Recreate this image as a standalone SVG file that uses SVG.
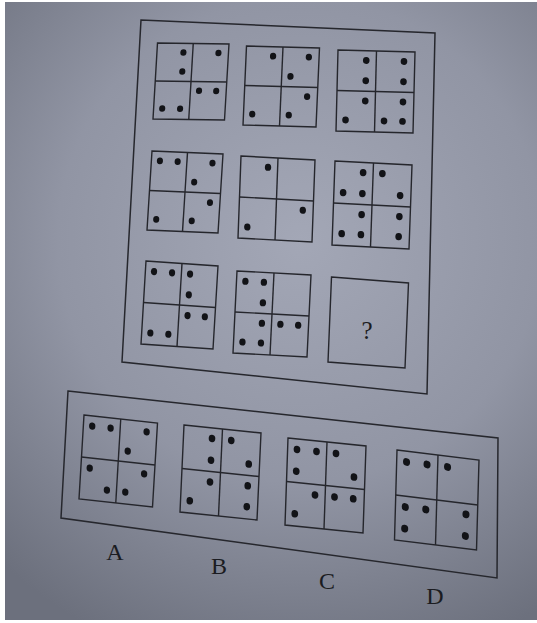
<svg xmlns="http://www.w3.org/2000/svg" width="537" height="623" viewBox="0 0 537 623">
<defs>
<radialGradient id="paper" cx="300" cy="240" r="440" gradientUnits="userSpaceOnUse">
<stop offset="0" stop-color="#a3a7b6"/>
<stop offset="0.55" stop-color="#9195a4"/>
<stop offset="1" stop-color="#6c707d"/>
</radialGradient>
<style>
.frame{fill:none;stroke:#26272d;stroke-width:1.5}
.cell rect,.cell line{fill:none;stroke:#25262c;stroke-width:1.4;vector-effect:non-scaling-stroke}
.cell circle{fill:#121317}
.lbl{font-family:"Liberation Serif",serif;fill:#1b1c21;text-anchor:middle}
</style>
</defs>
<rect width="537" height="623" fill="#ffffff"/>
<rect x="5" y="2" width="532" height="618" fill="url(#paper)"/>

<g id="main-frame"><polygon class="frame" points="141,20 435,33 427,394 122,362"/></g>
<g id="options-frame"><polygon class="frame" points="68,391 498,438 497,578 61,518"/></g>

<g id="cell1" class="cell" transform="matrix(0.715,0.01,-0.045,0.76,157.5,43)">
<rect width="100" height="100"/><line x1="50" y1="0" x2="50" y2="100"/><line x1="0" y1="50" x2="100" y2="50"/>
<circle cx="37" cy="12" r="4.3"/><circle cx="37" cy="37" r="4.3"/><circle cx="86" cy="12" r="4.3"/><circle cx="62" cy="62" r="4.3"/><circle cx="86" cy="62" r="4.3"/><circle cx="12" cy="86" r="4.3"/><circle cx="37" cy="86" r="4.3"/>
</g>
<g id="cell2" class="cell" transform="matrix(0.73,0.02,-0.035,0.79,246.5,46)">
<rect width="100" height="100"/><line x1="50" y1="0" x2="50" y2="100"/><line x1="0" y1="50" x2="100" y2="50"/>
<circle cx="37" cy="12" r="4.3"/><circle cx="86" cy="12" r="4.3"/><circle cx="62" cy="37" r="4.3"/><circle cx="86" cy="62" r="4.3"/><circle cx="12" cy="86" r="4.3"/><circle cx="62" cy="86" r="4.3"/>
</g>
<g id="cell3" class="cell" transform="matrix(0.77,0.02,-0.02,0.81,338,50)">
<rect width="100" height="100"/><line x1="50" y1="0" x2="50" y2="100"/><line x1="0" y1="50" x2="100" y2="50"/>
<circle cx="37" cy="12" r="4.3"/><circle cx="86" cy="12" r="4.3"/><circle cx="37" cy="37" r="4.3"/><circle cx="86" cy="37" r="4.3"/><circle cx="37" cy="62" r="4.3"/><circle cx="86" cy="62" r="4.3"/><circle cx="12" cy="86" r="4.3"/><circle cx="62" cy="86" r="4.3"/><circle cx="86" cy="86" r="4.3"/>
</g>
<g id="cell4" class="cell" transform="matrix(0.71,0.03,-0.05,0.79,152,151)">
<rect width="100" height="100"/><line x1="50" y1="0" x2="50" y2="100"/><line x1="0" y1="50" x2="100" y2="50"/>
<circle cx="12" cy="12" r="4.3"/><circle cx="37" cy="12" r="4.3"/><circle cx="86" cy="12" r="4.3"/><circle cx="62" cy="37" r="4.3"/><circle cx="86" cy="62" r="4.3"/><circle cx="12" cy="86" r="4.3"/><circle cx="62" cy="86" r="4.3"/>
</g>
<g id="cell5" class="cell" transform="matrix(0.74,0.04,-0.03,0.82,241,156)">
<rect width="100" height="100"/><line x1="50" y1="0" x2="50" y2="100"/><line x1="0" y1="50" x2="100" y2="50"/>
<circle cx="37" cy="12" r="4.3"/><circle cx="86" cy="62" r="4.3"/><circle cx="12" cy="86" r="4.3"/>
</g>
<g id="cell6" class="cell" transform="matrix(0.77,0.04,-0.03,0.84,335,161)">
<rect width="100" height="100"/><line x1="50" y1="0" x2="50" y2="100"/><line x1="0" y1="50" x2="100" y2="50"/>
<circle cx="37" cy="12" r="4.3"/><circle cx="62" cy="12" r="4.3"/><circle cx="12" cy="37" r="4.3"/><circle cx="37" cy="37" r="4.3"/><circle cx="86" cy="37" r="4.3"/><circle cx="37" cy="62" r="4.3"/><circle cx="86" cy="62" r="4.3"/><circle cx="12" cy="86" r="4.3"/><circle cx="37" cy="86" r="4.3"/><circle cx="86" cy="86" r="4.3"/>
</g>
<g id="cell7" class="cell" transform="matrix(0.72,0.05,-0.05,0.83,146,261)">
<rect width="100" height="100"/><line x1="50" y1="0" x2="50" y2="100"/><line x1="0" y1="50" x2="100" y2="50"/>
<circle cx="12" cy="12" r="4.3"/><circle cx="37" cy="12" r="4.3"/><circle cx="62" cy="12" r="4.3"/><circle cx="62" cy="37" r="4.3"/><circle cx="62" cy="62" r="4.3"/><circle cx="86" cy="62" r="4.3"/><circle cx="12" cy="86" r="4.3"/><circle cx="37" cy="86" r="4.3"/>
</g>
<g id="cell8" class="cell" transform="matrix(0.74,0.04,-0.04,0.82,237,271)">
<rect width="100" height="100"/><line x1="50" y1="0" x2="50" y2="100"/><line x1="0" y1="50" x2="100" y2="50"/>
<circle cx="12" cy="12" r="4.3"/><circle cx="37" cy="12" r="4.3"/><circle cx="37" cy="37" r="4.3"/><circle cx="37" cy="62" r="4.3"/><circle cx="62" cy="62" r="4.3"/><circle cx="86" cy="62" r="4.3"/><circle cx="12" cy="86" r="4.3"/><circle cx="37" cy="86" r="4.3"/>
</g>
<g id="cell9" class="cell" transform="matrix(0.77,0.06,-0.035,0.85,331.5,277)">
<rect width="100" height="100"/>
</g>
<text id="question" class="lbl" x="367" y="339" font-size="25">?</text>

<g id="optA" class="cell" transform="matrix(0.735,0.08,-0.05,0.84,84,415)">
<rect width="100" height="100"/><line x1="50" y1="0" x2="50" y2="100"/><line x1="0" y1="50" x2="100" y2="50"/>
<circle cx="12" cy="12" r="4.3"/><circle cx="37" cy="12" r="4.3"/><circle cx="86" cy="12" r="4.3"/><circle cx="62" cy="37" r="4.3"/><circle cx="12" cy="62" r="4.3"/><circle cx="86" cy="62" r="4.3"/><circle cx="37" cy="86" r="4.3"/><circle cx="62" cy="86" r="4.3"/>
</g>
<g id="optB" class="cell" transform="matrix(0.77,0.08,-0.04,0.87,184,425)">
<rect width="100" height="100"/><line x1="50" y1="0" x2="50" y2="100"/><line x1="0" y1="50" x2="100" y2="50"/>
<circle cx="37" cy="12" r="4.3"/><circle cx="62" cy="12" r="4.3"/><circle cx="37" cy="37" r="4.3"/><circle cx="86" cy="37" r="4.3"/><circle cx="37" cy="62" r="4.3"/><circle cx="86" cy="62" r="4.3"/><circle cx="12" cy="86" r="4.3"/><circle cx="86" cy="86" r="4.3"/>
</g>
<g id="optC" class="cell" transform="matrix(0.78,0.08,-0.03,0.87,288,438)">
<rect width="100" height="100"/><line x1="50" y1="0" x2="50" y2="100"/><line x1="0" y1="50" x2="100" y2="50"/>
<circle cx="12" cy="12" r="4.3"/><circle cx="37" cy="12" r="4.3"/><circle cx="62" cy="12" r="4.3"/><circle cx="12" cy="37" r="4.3"/><circle cx="86" cy="37" r="4.3"/><circle cx="37" cy="62" r="4.3"/><circle cx="62" cy="62" r="4.3"/><circle cx="86" cy="62" r="4.3"/><circle cx="12" cy="86" r="4.3"/>
</g>
<g id="optD" class="cell" transform="matrix(0.82,0.10,-0.025,0.90,397,450)">
<rect width="100" height="100"/><line x1="50" y1="0" x2="50" y2="100"/><line x1="0" y1="50" x2="100" y2="50"/>
<circle cx="12" cy="12" r="4.3"/><circle cx="37" cy="12" r="4.3"/><circle cx="62" cy="12" r="4.3"/><circle cx="12" cy="62" r="4.3"/><circle cx="37" cy="62" r="4.3"/><circle cx="12" cy="86" r="4.3"/><circle cx="86" cy="62" r="4.3"/><circle cx="86" cy="86" r="4.3"/>
</g>

<text class="lbl" x="115" y="560" font-size="24">A</text>
<text class="lbl" x="219" y="574" font-size="24">B</text>
<text class="lbl" x="327" y="589" font-size="24">C</text>
<text class="lbl" x="435" y="604" font-size="24">D</text>
</svg>
